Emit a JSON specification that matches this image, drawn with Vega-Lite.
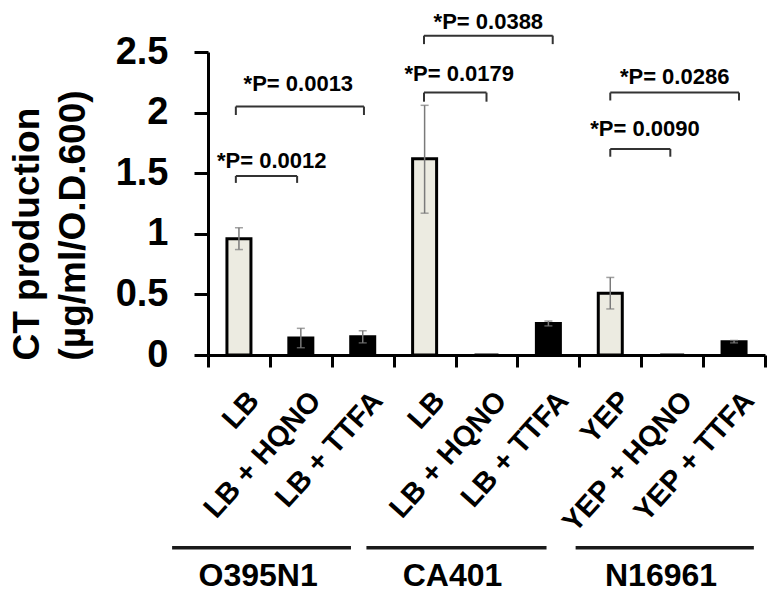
{
  "$schema": "https://vega.github.io/schema/vega-lite/v6.json",
  "width": 557,
  "height": 303,
  "autosize": {"type": "none"},
  "padding": {"left": 208, "top": 52, "right": 19, "bottom": 248},
  "background": "white",
  "config": {"view": {"stroke": null}, "font": "Liberation Sans"},
  "datasets": {
    "bars": [
      {"key": "O395N1: LB", "kind": "control", "value": 0.96, "lo": 0.87, "hi": 1.05},
      {"key": "O395N1: LB + HQNO", "kind": "treated", "value": 0.14, "lo": 0.06, "hi": 0.22},
      {"key": "O395N1: LB + TTFA", "kind": "treated", "value": 0.15, "lo": 0.10, "hi": 0.20},
      {"key": "CA401: LB", "kind": "control", "value": 1.62, "lo": 1.17, "hi": 2.06},
      {"key": "CA401: LB + HQNO", "kind": "treated", "value": 0, "lo": 0, "hi": 0},
      {"key": "CA401: LB + TTFA", "kind": "treated", "value": 0.26, "lo": 0.24, "hi": 0.28},
      {"key": "N16961: YEP", "kind": "control", "value": 0.51, "lo": 0.38, "hi": 0.64},
      {"key": "N16961: YEP + HQNO", "kind": "treated", "value": 0, "lo": 0, "hi": 0},
      {"key": "N16961: YEP + TTFA", "kind": "treated", "value": 0.11, "lo": 0.10, "hi": 0.12}
    ],
    "brackets": [
      {"x1": 0.45, "x2": 1.44, "y": 1.477, "ylow": 1.42, "tx": 1.03, "ty": 1.60, "label": "*P= 0.0012"},
      {"x1": 0.45, "x2": 2.52, "y": 2.05, "ylow": 1.98, "tx": 1.46, "ty": 2.236, "label": "*P= 0.0013"},
      {"x1": 3.49, "x2": 4.50, "y": 2.165, "ylow": 2.09, "tx": 4.06, "ty": 2.32, "label": "*P= 0.0179"},
      {"x1": 3.49, "x2": 5.57, "y": 2.635, "ylow": 2.565, "tx": 4.53, "ty": 2.75, "label": "*P= 0.0388"},
      {"x1": 6.50, "x2": 7.47, "y": 1.70, "ylow": 1.636, "tx": 7.06, "ty": 1.865, "label": "*P= 0.0090"},
      {"x1": 6.50, "x2": 8.58, "y": 2.165, "ylow": 2.10, "tx": 7.54, "ty": 2.296, "label": "*P= 0.0286"}
    ],
    "groups": [
      {"name": "O395N1", "x1": -0.58, "x2": 2.31, "xc": 0.81, "y": -1.59, "ty": -1.82},
      {"name": "CA401", "x1": 2.56, "x2": 5.47, "xc": 3.95, "y": -1.59, "ty": -1.82},
      {"name": "N16961", "x1": 5.94, "x2": 8.82, "xc": 7.32, "y": -1.59, "ty": -1.82}
    ]
  },
  "layer": [
    {
      "data": {"name": "bars"},
      "encoding": {
        "x": {
          "field": "key", "type": "nominal",
          "scale": {
            "domain": ["O395N1: LB", "O395N1: LB + HQNO", "O395N1: LB + TTFA", "CA401: LB", "CA401: LB + HQNO", "CA401: LB + TTFA", "N16961: YEP", "N16961: YEP + HQNO", "N16961: YEP + TTFA"],
            "paddingInner": 0, "paddingOuter": 0
          },
          "axis": {
            "title": null,
            "labelExpr": "split(datum.label, ': ')[1]",
            "labelAngle": -48,
            "labelAlign": "right",
            "labelBaseline": "top",
            "labelOffset": 4,
            "labelPadding": 19,
            "labelFontSize": 29,
            "labelFontWeight": "bold",
            "labelColor": "black",
            "labelOverlap": false,
            "labelBound": false,
            "labelFlush": false,
            "labelLimit": 0,
            "tickBand": "extent",
            "tickSize": 12,
            "tickWidth": 3,
            "tickColor": "black",
            "domainWidth": 3,
            "domainColor": "black"
          }
        }
      },
      "layer": [
        {
          "mark": {"type": "bar", "size": 24, "stroke": "black", "strokeWidth": 3},
          "encoding": {
            "y": {
              "field": "value", "type": "quantitative",
              "scale": {"domain": [0, 2.5], "nice": false, "zero": true},
              "axis": {
                "values": [0, 0.5, 1, 1.5, 2, 2.5],
                "format": "~g",
                "grid": false,
                "title": ["CT production", "(µg/ml/O.D.600)"],
                "titleFontSize": 37,
                "titleFontWeight": "bold",
                "titleColor": "black",
                "titleLineHeight": 46,
                "titleAngle": 270,
                "titleAlign": "left",
                "titleBaseline": "alphabetic",
                "titleX": -170,
                "titleY": 308,
                "labelFontSize": 38,
                "labelFontWeight": "bold",
                "labelColor": "black",
                "labelPadding": 26,
                "labelBaseline": "middle",
                "labelFlush": false,
                "labelBound": false,
                "tickSize": 14,
                "tickWidth": 3,
                "tickColor": "black",
                "domainWidth": 3,
                "domainColor": "black"
              }
            },
            "fill": {
              "field": "kind", "type": "nominal",
              "scale": {"domain": ["control", "treated"], "range": ["#ecebe1", "#000000"]},
              "legend": null
            }
          }
        },
        {
          "transform": [{"filter": "datum.hi > datum.lo"}],
          "mark": {"type": "rule", "color": "#7a7a7a", "strokeWidth": 1.5},
          "encoding": {
            "y": {"field": "lo", "type": "quantitative"},
            "y2": {"field": "hi"}
          }
        },
        {
          "transform": [{"filter": "datum.hi > datum.lo"}],
          "mark": {"type": "tick", "color": "#7a7a7a", "size": 8, "thickness": 1.5},
          "encoding": {"y": {"field": "hi", "type": "quantitative"}}
        },
        {
          "transform": [{"filter": "datum.hi > datum.lo"}],
          "mark": {"type": "tick", "color": "#7a7a7a", "size": 8, "thickness": 1.5},
          "encoding": {"y": {"field": "lo", "type": "quantitative"}}
        }
      ]
    },
    {
      "data": {"name": "brackets"},
      "layer": [
        {
          "mark": {"type": "rule", "color": "#333333", "strokeWidth": 2},
          "encoding": {
            "x": {"field": "x1", "type": "quantitative", "scale": {"domain": [0, 9], "nice": false, "zero": false}, "axis": null},
            "x2": {"field": "x2"},
            "y": {"field": "y", "type": "quantitative", "scale": {"domain": [0, 2.5], "nice": false, "zero": false}, "axis": null}
          }
        },
        {
          "mark": {"type": "rule", "color": "#333333", "strokeWidth": 2},
          "encoding": {
            "x": {"field": "x1", "type": "quantitative", "axis": null},
            "y": {"field": "y", "type": "quantitative", "axis": null},
            "y2": {"field": "ylow"}
          }
        },
        {
          "mark": {"type": "rule", "color": "#333333", "strokeWidth": 2},
          "encoding": {
            "x": {"field": "x2", "type": "quantitative", "axis": null},
            "y": {"field": "y", "type": "quantitative", "axis": null},
            "y2": {"field": "ylow"}
          }
        },
        {
          "mark": {"type": "text", "fontSize": 22, "fontWeight": "bold", "color": "black", "align": "center", "baseline": "middle"},
          "encoding": {
            "x": {"field": "tx", "type": "quantitative", "axis": null},
            "y": {"field": "ty", "type": "quantitative", "axis": null},
            "text": {"field": "label"}
          }
        }
      ]
    },
    {
      "data": {"name": "groups"},
      "layer": [
        {
          "mark": {"type": "rule", "color": "#1a1a1a", "strokeWidth": 3.5},
          "encoding": {
            "x": {"field": "x1", "type": "quantitative", "scale": {"domain": [0, 9], "nice": false, "zero": false}, "axis": null},
            "x2": {"field": "x2"},
            "y": {"field": "y", "type": "quantitative", "scale": {"domain": [0, 2.5], "nice": false, "zero": false}, "axis": null}
          }
        },
        {
          "mark": {"type": "text", "fontSize": 32, "fontWeight": "bold", "color": "black", "align": "center", "baseline": "middle"},
          "encoding": {
            "x": {"field": "xc", "type": "quantitative", "axis": null},
            "y": {"field": "ty", "type": "quantitative", "axis": null},
            "text": {"field": "name"}
          }
        }
      ]
    }
  ],
  "resolve": {
    "scale": {"x": "independent", "y": "independent"},
    "axis": {"x": "independent", "y": "independent"}
  }
}
